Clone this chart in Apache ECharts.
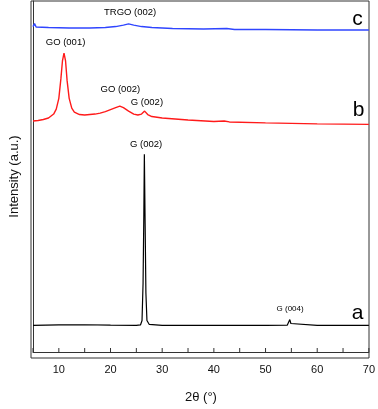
<!DOCTYPE html>
<html><head><meta charset="utf-8">
<script src="https://cdn.jsdelivr.net/npm/echarts@6/dist/echarts.min.js"></script>
<style>html,body{margin:0;padding:0;background:#fff}#c{width:378px;height:409px}</style>
</head><body><div id="c"></div>
<script>
// Trace a (graphite), [2θ, intensity]
const traceA = [[5,27],[10,27.5],[15,27.7],[20,27.3],[25,27],[25.8,27.5],[26.1,32],[26.3,70],[26.45,140],[26.55,201],[26.7,130],[26.85,60],[27.05,32],[27.5,28],[30,27],[40,27],[50,27],[54.2,27.3],[54.5,29],[54.7,33],[54.9,29],[55.2,27.3],[60,27],[70,27]];
// Trace b (GO)
const traceB = [[5,235],[6,235.5],[7,236.5],[8,238],[9,242],[9.5,247],[10,258],[10.4,278],[10.7,296],[11.0,304],[11.3,296],[11.6,276],[12,258],[12.5,248],[13,244],[14,241.5],[15,241],[16,241.5],[17,242],[18,243],[19,244.5],[20,246.5],[21,248.5],[21.8,250],[22.5,248.5],[23.5,245],[24.5,242],[25.3,241],[26,242],[26.6,245],[27.2,241.5],[28,239.5],[30,238],[35,236],[40,234.5],[42,235],[43,234],[50,233],[60,232],[70,231.5]];
// Trace c (TRGO)
const traceC = [[5,331],[5.3,334],[5.6,330.5],[8,330],[12,329.5],[16,329.5],[19,330],[21,331],[22.5,332.5],[23.5,333.7],[24.5,332.5],[26,331],[28,330],[32,329],[38,328.5],[42.5,329],[44,328],[50,328],[60,327.5],[70,327.5]];
// Peak annotations [2θ, intensity, text]
const peakLabels = [[23.8,345.3,'TRGO (002)'],[11.3,315.3,'GO (001)'],[21.9,267.3,'GO (002)'],[27.05,253.7,'G (002)'],[26.9,211.3,'G (002)']];
const smallLabels = [[54.75,43.7,'G (004)']];
const traceLetters = [[67.8,338,'c'],[68.0,246,'b'],[67.8,39,'a']];
const xTicks = [10,20,30,40,50,60,70];
const xTickMarks = [5,10,15,20,25,30,35,40,45,50,55,60,65,70];

const chart = echarts.init(document.getElementById('c'));
const axisCol = '#333';
function textSeries(arr, size){
  return {type:'scatter', symbolSize:0, silent:true, z:5,
    data: arr.map(d=>({value:[d[0],d[1]], name:d[2]})),
    itemStyle:{color:'#000', opacity:1},
    label:{show:true, position:'inside', formatter:p=>p.name, color:'#000', fontSize:size, fontFamily:'Liberation Sans, Arial'}};
}
chart.setOption({
  animation:false,
  grid:{left:31,right:9,top:1,bottom:51},
  xAxis:[{type:'value', min:5, max:70, interval:5,
    name:'2θ (°)', nameLocation:'middle', nameGap:39,
    nameTextStyle:{fontSize:13, color:'#111', fontFamily:'Liberation Sans, Arial'},
    axisLine:{show:true, onZero:false, lineStyle:{color:axisCol, width:1}},
    axisTick:{show:false},
    axisLabel:{color:'#111', fontSize:11, margin:12, fontFamily:'Liberation Sans, Arial',
      formatter:v=> xTicks.indexOf(v)>=0 ? String(v) : ''},
    splitLine:{show:false}}],
  yAxis:[{type:'value', min:0, max:357,
    name:'Intensity (a.u.)', nameLocation:'middle', nameGap:12, nameRotate:90,
    nameTextStyle:{fontSize:13, color:'#111', fontFamily:'Liberation Sans, Arial'},
    axisLine:{show:true, onZero:false, lineStyle:{color:axisCol}}, axisTick:{show:false}, axisLabel:{show:false}, splitLine:{show:false}}],
  series:[
    {type:'line', data:traceA, showSymbol:false, lineStyle:{color:'#000', width:1.2}},
    {type:'line', data:traceB, showSymbol:false, lineStyle:{color:'#ff1a1a', width:1.4}},
    {type:'line', data:traceC, showSymbol:false, lineStyle:{color:'#2f45ff', width:1.4}},
    textSeries(peakLabels, 9.5),
    textSeries(smallLabels, 8),
    textSeries(traceLetters, 21),
    {type:'custom', silent:true, clip:false, z:6,
      data: xTickMarks.map(v=>[v,0]),
      renderItem:(params, api)=>{
        const p = api.coord([api.value(0), 0]);
        return {type:'line', shape:{x1:p[0], y1:p[1], x2:p[0], y2:p[1]-4}, style:{stroke:axisCol, lineWidth:1}};
      }}
  ],
  graphic:[{type:'rect', shape:{x:31,y:1,width:338,height:357}, style:{fill:'none', stroke:axisCol, lineWidth:1}, silent:true}]
});
</script></body></html>
